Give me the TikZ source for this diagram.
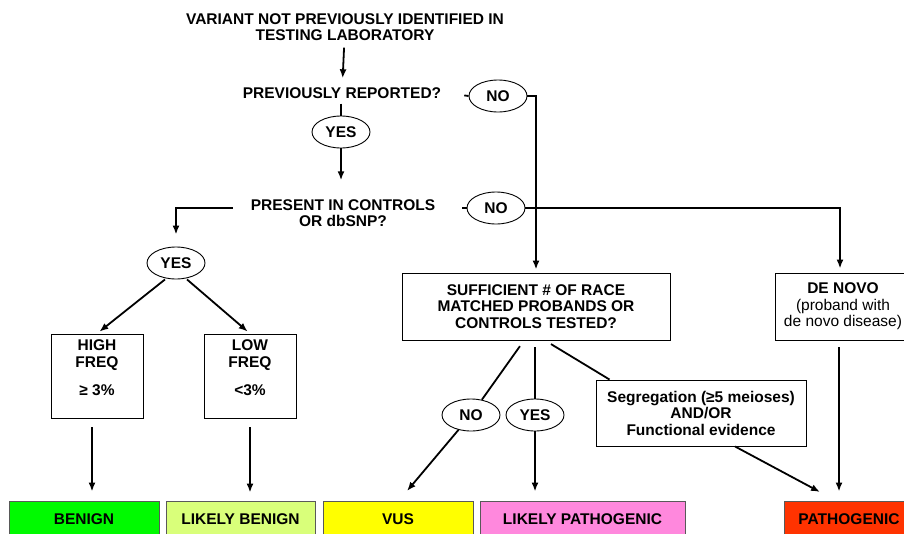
\documentclass[tikz,border=0pt]{standalone}
\usepackage{fontspec}
\setmainfont{Liberation Sans}
\usetikzlibrary{arrows,arrows.meta,positioning,shapes.geometric}
\definecolor{benigngreen}{RGB}{0,250,0}
\definecolor{likelygreen}{RGB}{217,255,122}
\definecolor{vusyellow}{RGB}{255,255,0}
\definecolor{likelypink}{RGB}{255,136,221}
\definecolor{pathred}{RGB}{255,51,0}
\tikzset{
  txt/.style={font=\bfseries\fontsize{15.5}{16}\selectfont, align=center, inner sep=5pt},
  ans/.style={draw, ellipse, fill=white, line width=0.9pt, minimum width=58pt, minimum height=32pt,
    inner sep=0pt, font=\bfseries\fontsize{15.5}{16}\selectfont},
  qbox/.style={draw, fill=white, line width=0.9pt, align=center, inner sep=2pt,
    font=\bfseries\fontsize{15.5}{16.5}\selectfont},
  cls/.style={draw=black!65, line width=0.9pt, minimum height=36pt, inner sep=0pt,
    font=\bfseries\fontsize{15.5}{16}\selectfont},
  arr/.style={-{Latex[length=9pt,width=7pt]}, line width=1.8pt},
  lin/.style={line width=1.8pt}
}
\begin{document}
\begin{tikzpicture}[x=1pt,y=-1pt]
    \useasboundingbox (0,0) rectangle (904,533);
    \node[txt] (start) at (345,27) {VARIANT NOT PREVIOUSLY IDENTIFIED IN\\TESTING LABORATORY};
    \node[txt] (reported) at (342,93) {PREVIOUSLY REPORTED?};
    \node[ans] (no1) at (498,96) {NO};
    \node[ans] (yes1) at (341,132) {YES};
    \node[txt] (present) at (343,213) {PRESENT IN CONTROLS\\OR dbSNP?};
    \node[ans] (no2) at (496,208) {NO};
    \node[ans] (yes2) at (176,263) {YES};
    \node[qbox, minimum width=92pt, minimum height=84pt] (high) at (97,376) {HIGH\\FREQ\\[12pt]≥ 3\%\\[0pt]~};
    \node[qbox, minimum width=92pt, minimum height=84pt] (low) at (250,376) {LOW\\FREQ\\[12pt]<3\%\\[0pt]~};
    \node[qbox, minimum width=268pt, minimum height=67pt] (suff) at (536,306.5)
      {SUFFICIENT \# OF RACE\\MATCHED PROBANDS OR\\CONTROLS TESTED?};
    \node[qbox, minimum width=136pt, minimum height=67pt] (denovo) at (843,306.5)
      {DE NOVO\\{\mdseries (proband with}\\{\mdseries de novo disease)}};
    \node[ans] (no3) at (471,415) {NO};
    \node[ans] (yes3) at (535,415) {YES};
    \node[qbox, minimum width=210pt, minimum height=66pt] (seg) at (701,413)
      {Segregation (≥5 meioses)\\AND/OR\\Functional evidence};
    \node[cls, fill=benigngreen, minimum width=150pt] (benign) at (84,519) {BENIGN};
    \node[cls, fill=likelygreen, minimum width=149pt] (likben) at (240.5,519) {LIKELY BENIGN};
    \node[cls, fill=vusyellow, minimum width=150pt] (vus) at (398,519) {VUS};
    \node[cls, fill=likelypink, minimum width=205pt] (likpath) at (582.5,519) {LIKELY PATHOGENIC};
    \node[cls, fill=pathred, minimum width=130pt] (path) at (849,519) {PATHOGENIC};
    \coordinate (vustip) at (407,491);
    \coordinate (pathtip) at (820,492);
    \draw[arr, shorten <=2pt, shorten >=4pt] (start) -- (reported);
    \draw[lin] (reported.south -| yes1) -- (yes1);
    \draw[arr, shorten >=14pt] (yes1) -- (yes1 |- present.north);
    \draw[lin, shorten <=18pt] (reported.east) -- (no1.west);
    \draw[arr, shorten >=3pt] (no1.east) -| (suff.north);
    \draw[lin, shorten <=22pt] (present.east |- no2) -- (no2.west);
    \draw[arr, shorten >=4pt] (no2.east) -| ([xshift=-3pt]denovo.north);
    \draw[arr, shorten <=13pt, shorten >=12pt] (present.west |- no2) -| (yes2.north);
    \draw[arr, shorten >=3pt] ([xshift=-11pt]yes2.south) -- (high.north);
    \draw[arr, shorten >=3pt] ([xshift=11pt]yes2.south) -- (low.north);
    \draw[arr, shorten <=9pt, shorten >=9pt] ([xshift=-5pt]high.south) -- ([xshift=-5pt]high.south |- benign.north);
    \draw[arr, shorten <=9pt, shorten >=8pt] (low.south) -- (low.south |- likben.north);
    \draw[lin, shorten <=7pt] ([xshift=-12pt]suff.south) -- (no3);
    \draw[arr] (no3) -- (vustip);
    \draw[lin, shorten <=7pt] (suff.south -| yes3) -- (yes3);
    \draw[arr, shorten >=9pt] (yes3) -- (yes3 |- likpath.north);
    \draw[lin, shorten <=7pt] ([xshift=9pt]suff.south) -- ([xshift=14pt]seg.north west);
    \draw[arr] ([xshift=34pt]seg.south) -- (pathtip);
    \draw[arr, shorten <=7pt, shorten >=9pt] ([xshift=-4pt]denovo.south) -- ([xshift=-4pt]denovo.south |- path.north);
\end{tikzpicture}
\end{document}
